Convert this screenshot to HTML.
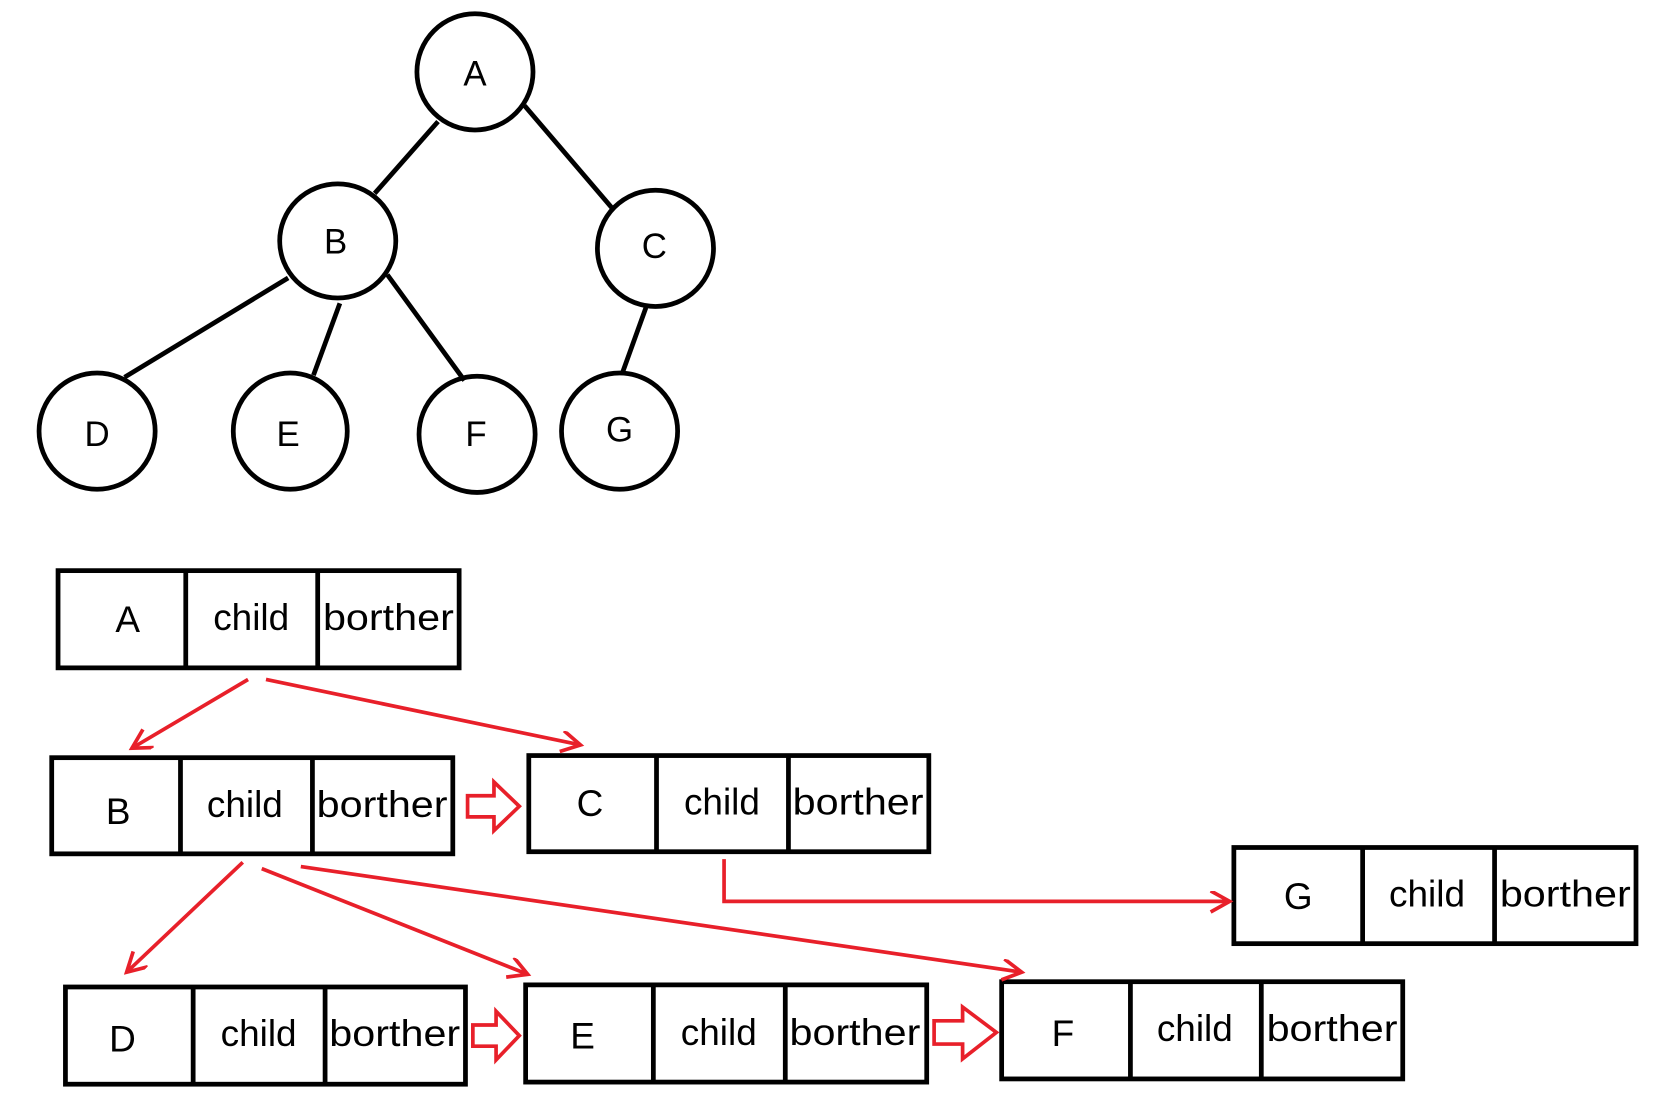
<!DOCTYPE html>
<html><head><meta charset="utf-8"><style>html,body{margin:0;padding:0;background:#fff}svg{display:block}</style></head>
<body>
<svg width="1655" height="1099" viewBox="0 0 1568 1040" preserveAspectRatio="none" xmlns="http://www.w3.org/2000/svg" font-family="Liberation Sans, DejaVu Sans, sans-serif">
<defs>
<marker id="m" markerWidth="30" markerHeight="30" refX="20" refY="10" orient="auto" markerUnits="userSpaceOnUse">
<path d="M2,0 L20,10 L2,20" fill="none" stroke="#e8202a" stroke-width="3.5"/>
</marker>
</defs>
<g stroke="#000" stroke-width="4.5" fill="none">
<line x1="415" y1="115" x2="355" y2="183"/>
<line x1="497" y1="100" x2="580" y2="197"/>
<line x1="273" y1="263" x2="118" y2="357"/>
<line x1="322" y1="287" x2="297" y2="355"/>
<line x1="367" y1="260" x2="440" y2="360"/>
<line x1="612" y1="291" x2="590" y2="352"/>
<ellipse cx="450" cy="68" rx="55" ry="55"/>
<ellipse cx="320" cy="228" rx="55" ry="54"/>
<ellipse cx="621" cy="235" rx="55" ry="55"/>
<ellipse cx="92" cy="408" rx="55" ry="55"/>
<ellipse cx="275" cy="408" rx="54" ry="55"/>
<ellipse cx="452" cy="411" rx="55" ry="55"/>
<ellipse cx="587" cy="408" rx="55" ry="55"/>
</g>
<g font-size="33" text-anchor="middle" fill="#000">
<text x="450" y="81">A</text><text x="318" y="240">B</text><text x="620" y="244">C</text>
<text x="92" y="422">D</text><text x="273" y="422">E</text><text x="451" y="422">F</text><text x="587" y="418">G</text>
</g>
<g stroke="#000" stroke-width="4.5" fill="none">
<rect x="55" y="540" width="380" height="92"/><line x1="176" y1="540" x2="176" y2="632"/><line x1="301" y1="540" x2="301" y2="632"/>
<rect x="49" y="717" width="380" height="91"/><line x1="171" y1="717" x2="171" y2="808"/><line x1="296" y1="717" x2="296" y2="808"/>
<rect x="501" y="715" width="379" height="91"/><line x1="622" y1="715" x2="622" y2="806"/><line x1="747" y1="715" x2="747" y2="806"/>
<rect x="1169" y="802" width="381" height="91"/><line x1="1291" y1="802" x2="1291" y2="893"/><line x1="1416" y1="802" x2="1416" y2="893"/>
<rect x="62" y="934" width="379" height="92"/><line x1="183" y1="934" x2="183" y2="1026"/><line x1="308" y1="934" x2="308" y2="1026"/>
<rect x="498" y="932" width="380" height="92"/><line x1="619" y1="932" x2="619" y2="1024"/><line x1="744" y1="932" x2="744" y2="1024"/>
<rect x="949" y="929" width="380" height="92"/><line x1="1071" y1="929" x2="1071" y2="1021"/><line x1="1195" y1="929" x2="1195" y2="1021"/>
</g>
<g font-size="35" fill="#000" text-anchor="middle">
<text x="121" y="598">A</text><text x="238" y="596">child</text><text x="368" y="596" textLength="124" lengthAdjust="spacingAndGlyphs">borther</text>
<text x="112" y="780">B</text><text x="232" y="773">child</text><text x="362" y="773" textLength="124" lengthAdjust="spacingAndGlyphs">borther</text>
<text x="559" y="772">C</text><text x="684" y="771">child</text><text x="813" y="771" textLength="124" lengthAdjust="spacingAndGlyphs">borther</text>
<text x="1230" y="860">G</text><text x="1352" y="858">child</text><text x="1483" y="858" textLength="124" lengthAdjust="spacingAndGlyphs">borther</text>
<text x="116" y="995">D</text><text x="245" y="990">child</text><text x="374" y="990" textLength="124" lengthAdjust="spacingAndGlyphs">borther</text>
<text x="552" y="992">E</text><text x="681" y="989">child</text><text x="810" y="989" textLength="124" lengthAdjust="spacingAndGlyphs">borther</text>
<text x="1007" y="990">F</text><text x="1132" y="985">child</text><text x="1262" y="985" textLength="124" lengthAdjust="spacingAndGlyphs">borther</text>
</g>
<g stroke="#e8202a" stroke-width="3.5" fill="none">
<line x1="235" y1="643" x2="125" y2="708" marker-end="url(#m)"/>
<line x1="252" y1="643" x2="550" y2="705" marker-end="url(#m)"/>
<line x1="230" y1="816" x2="120" y2="920" marker-end="url(#m)"/>
<line x1="248" y1="822" x2="500" y2="922" marker-end="url(#m)"/>
<line x1="285" y1="820" x2="968" y2="920" marker-end="url(#m)"/>
<polyline points="686,813 686,853 1165,853" marker-end="url(#m)"/>
<path d="M443,753 H468 V740 L492,763 L468,786 V773 H443 Z"/>
<path d="M448,970 H470 V957 L492,980 L470,1003 V990 H448 Z"/>
<path d="M885,966 H912 V953 L944,977 L912,1002 V988 H885 Z"/>
</g>
</svg>
</body></html>
